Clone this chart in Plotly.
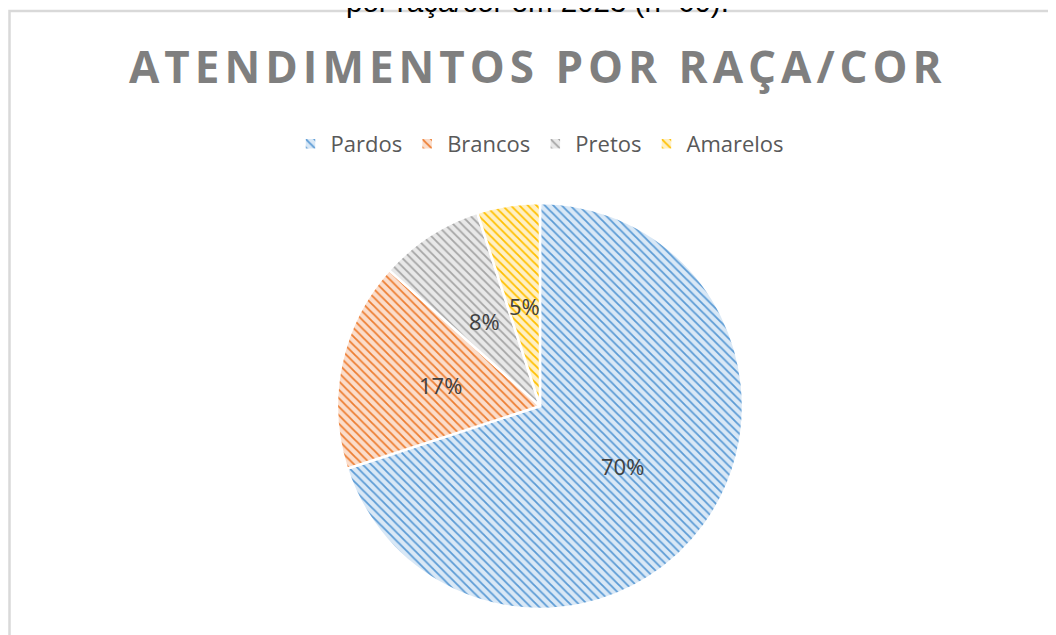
import math
import plotly.graph_objects as go

categories = ["Pardos", "Brancos", "Pretos", "Amarelos"]
counts = [42, 10, 5, 3]
base_colors = ["#5B9BD5", "#ED7D31", "#A5A5A5", "#FFC000"]
light_colors = ["#D9E8F6", "#FBDDCB", "#E8E8E8", "#FFF0C4"]
title_text = "ATENDIMENTOS POR RAÇA/COR"
caption_text = "por raça/cor em 2023 (n=60)."

W, H = 1056, 635
OFF = 8  # page body margin of the browser
def px_x(x):
    return (x - OFF) / W
def px_y(y):
    return 1 - (y - OFF) / H

CX, CY, R = 540, 406, 203  # pie centre/radius in screen pixels

fig = go.Figure()
fig.add_trace(go.Pie(
    labels=categories,
    values=counts,
    sort=False,
    direction="clockwise",
    rotation=0,
    textinfo="none",
    hoverinfo="label+percent",
    marker=dict(
        colors=base_colors,
        line=dict(color="white", width=2.5),
        pattern=dict(
            shape="\\",
            fgcolor=base_colors,
            bgcolor=light_colors,
            size=6,
            solidity=0.3,
            fillmode="replace",
        ),
    ),
    domain=dict(x=[px_x(CX - R), px_x(CX + R)], y=[px_y(CY + R), px_y(CY - R)]),
    showlegend=True,
))

# percentage labels placed at mid-angle, half radius (like the original)
total = sum(counts)
cum = 0
for c in counts:
    mid = (cum + c / 2) / total * 2 * math.pi
    cum += c
    lx = CX + 0.5 * R * math.sin(mid)
    ly = CY - 0.5 * R * math.cos(mid)
    fig.add_annotation(
        x=px_x(lx), y=px_y(ly), xref="paper", yref="paper",
        text=f"{round(c / total * 100)}%", showarrow=False,
        font=dict(family="Open Sans", size=22, color="#404040"),
        xanchor="center", yanchor="middle",
    )

# title
fig.add_annotation(
    x=px_x(538), y=px_y(66), xref="paper", yref="paper",
    text=f"<b><span style='letter-spacing:5px'>{title_text}</span></b>",
    showarrow=False, xanchor="center", yanchor="middle",
    font=dict(family="Open Sans", size=44, color="#7F7F7F"),
)

# cut caption at very top (partially hidden, as in the original)
fig.add_annotation(
    x=px_x(537), y=px_y(20), xref="paper", yref="paper",
    text=caption_text, showarrow=False, xanchor="center", yanchor="bottom",
    font=dict(family="Liberation Sans", size=29.5, color="#000000"),
)

# chart border (top and left visible)
fig.add_shape(type="rect", xref="paper", yref="paper",
              x0=px_x(9.5), x1=1.05, y0=-0.05, y1=px_y(11),
              line=dict(color="#D9D9D9", width=2.5), layer="below")

fig.update_layout(
    width=W, height=H,
    margin=dict(l=0, r=0, t=0, b=0),
    paper_bgcolor="white",
    plot_bgcolor="white",
    legend=dict(
        orientation="h", x=px_x(540), xanchor="center",
        y=px_y(144), yanchor="middle",
        font=dict(family="Open Sans", size=22, color="#595959"),
        itemclick=False, itemdoubleclick=False,
        traceorder="normal",
    ),
)

fig.write_html("out.html")
